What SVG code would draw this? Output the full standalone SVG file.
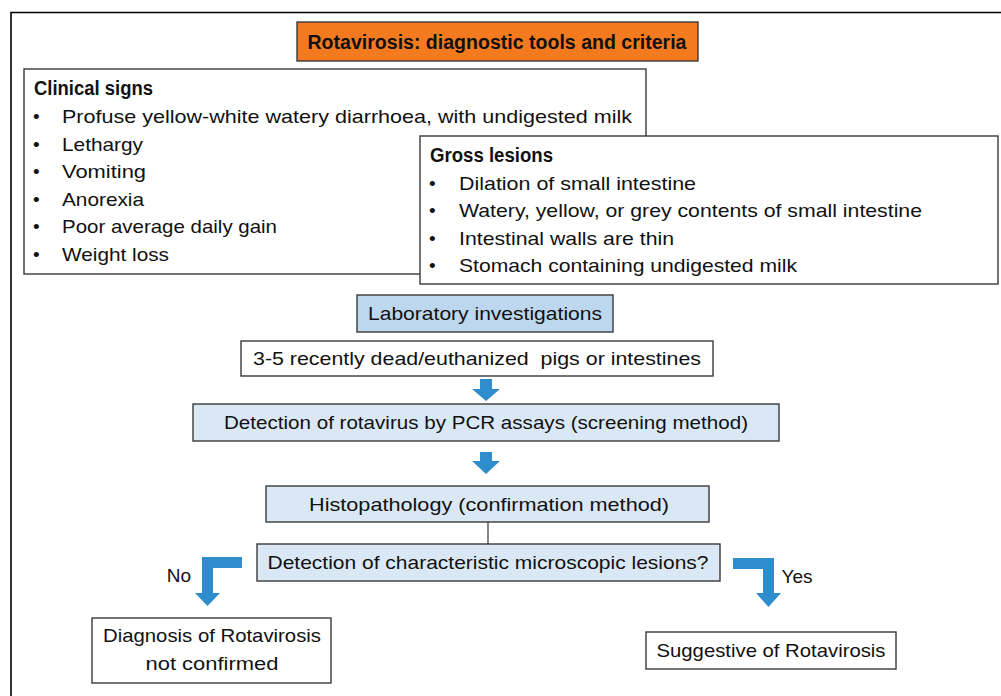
<svg xmlns="http://www.w3.org/2000/svg" width="1001" height="696" viewBox="0 0 1001 696">
  <style>
    .t { font-family: "Liberation Sans", Arial, sans-serif; font-size: 19px; fill: #111; }
    .b { font-weight: bold; font-size: 19.5px; }
    .c { text-anchor: middle; }
    .box { fill: #ffffff; stroke: #3a3a3a; stroke-width: 1.4; }
    .lab { fill: #bdd7ee; stroke: #3a3a3a; stroke-width: 1.4; }
    .step { fill: #dae8f5; stroke: #3a3a3a; stroke-width: 1.4; }
    .arrow { fill: #2f8dcd; }
  </style>

  <rect width="1001" height="696" fill="#ffffff"/>
  <!-- outer frame -->
  <path d="M11,700 V12.5 H1005" fill="none" stroke="#000" stroke-width="1.6"/>

  <g id="title">
    <rect x="297" y="22" width="401" height="39" fill="#f47a20" stroke="#3a3a3a" stroke-width="1.4"/>
    <text class="t b c" x="497" y="48.5" textLength="379" lengthAdjust="spacingAndGlyphs">Rotavirosis: diagnostic tools and criteria</text>
  </g>

  <g id="clinical-signs">
    <rect class="box" x="24" y="69" width="622" height="205"/>
    <text class="t b" x="34" y="95" textLength="119" lengthAdjust="spacingAndGlyphs">Clinical signs</text>
    <g class="t">
      <text x="33" y="123">•</text>
      <text x="62" y="123" textLength="570" lengthAdjust="spacingAndGlyphs">Profuse yellow-white watery diarrhoea, with undigested milk</text>
      <text x="33" y="150.5">•</text>
      <text x="62" y="150.5" textLength="81" lengthAdjust="spacingAndGlyphs">Lethargy</text>
      <text x="33" y="178">•</text>
      <text x="62" y="178" textLength="84" lengthAdjust="spacingAndGlyphs">Vomiting</text>
      <text x="33" y="205.5">•</text>
      <text x="62" y="205.5" textLength="82" lengthAdjust="spacingAndGlyphs">Anorexia</text>
      <text x="33" y="233">•</text>
      <text x="62" y="233" textLength="215" lengthAdjust="spacingAndGlyphs">Poor average daily gain</text>
      <text x="33" y="260.5">•</text>
      <text x="62" y="260.5" textLength="107" lengthAdjust="spacingAndGlyphs">Weight loss</text>
    </g>
  </g>

  <g id="gross-lesions">
    <rect class="box" x="420" y="136" width="578" height="148"/>
    <text class="t b" x="430" y="162" textLength="123" lengthAdjust="spacingAndGlyphs">Gross lesions</text>
    <g class="t">
      <text x="429" y="189.5">•</text>
      <text x="459" y="189.5" textLength="237" lengthAdjust="spacingAndGlyphs">Dilation of small intestine</text>
      <text x="429" y="217">•</text>
      <text x="459" y="217" textLength="463" lengthAdjust="spacingAndGlyphs">Watery, yellow, or grey contents of small intestine</text>
      <text x="429" y="244.5">•</text>
      <text x="459" y="244.5" textLength="215" lengthAdjust="spacingAndGlyphs">Intestinal walls are thin</text>
      <text x="429" y="272">•</text>
      <text x="459" y="272" textLength="338" lengthAdjust="spacingAndGlyphs">Stomach containing undigested milk</text>
    </g>
  </g>

  <g id="lab-investigations">
    <rect class="lab" x="357" y="295" width="256" height="37"/>
    <text class="t c" x="485" y="320" textLength="234" lengthAdjust="spacingAndGlyphs">Laboratory investigations</text>
  </g>

  <g id="samples">
    <rect class="box" x="241" y="341" width="472" height="35"/>
    <text class="t c" x="477" y="365" textLength="448" lengthAdjust="spacingAndGlyphs" style="white-space:pre">3-5 recently dead/euthanized  pigs or intestines</text>
  </g>

  <g id="pcr">
    <rect class="step" x="193" y="404" width="586" height="37"/>
    <text class="t c" x="486" y="429" textLength="524" lengthAdjust="spacingAndGlyphs">Detection of rotavirus by PCR assays (screening method)</text>
  </g>

  <g id="histopathology">
    <rect class="step" x="266" y="486" width="443" height="36"/>
    <text class="t c" x="489" y="511" textLength="360" lengthAdjust="spacingAndGlyphs">Histopathology (confirmation method)</text>
  </g>

  <g id="lesions-question">
    <rect class="step" x="257" y="544" width="463" height="37"/>
    <text class="t c" x="488" y="569" textLength="441" lengthAdjust="spacingAndGlyphs">Detection of characteristic microscopic lesions?</text>
  </g>

  <g id="not-confirmed">
    <rect class="box" x="92" y="618" width="239" height="65"/>
    <text class="t c" x="212" y="642" textLength="218" lengthAdjust="spacingAndGlyphs">Diagnosis of Rotavirosis</text>
    <text class="t c" x="212" y="670" textLength="133" lengthAdjust="spacingAndGlyphs">not confirmed</text>
  </g>

  <g id="suggestive">
    <rect class="box" x="646" y="632" width="250" height="37"/>
    <text class="t c" x="771" y="657" textLength="229" lengthAdjust="spacingAndGlyphs">Suggestive of Rotavirosis</text>
  </g>

  <g id="connectors">
    <line x1="488" y1="522" x2="488" y2="544" stroke="#3a3a3a" stroke-width="1.2"/>
    <polygon class="arrow" points="480,379 492,379 492,389 500,389 486,401 472,389 480,389"/>
    <polygon class="arrow" points="480,452 492,452 492,461 500,461 486,474 472,461 480,461"/>
    <polygon class="arrow" points="242,557 202,557 202,593 195,593 207.5,606 220,593 213,593 213,568 242,568"/>
    <polygon class="arrow" points="733,558 774,558 774,593 781,593 768.5,607 756,593 763,593 763,569 733,569"/>
    <text class="t c" x="179" y="582">No</text>
    <text class="t c" x="797" y="583">Yes</text>
  </g>
</svg>
